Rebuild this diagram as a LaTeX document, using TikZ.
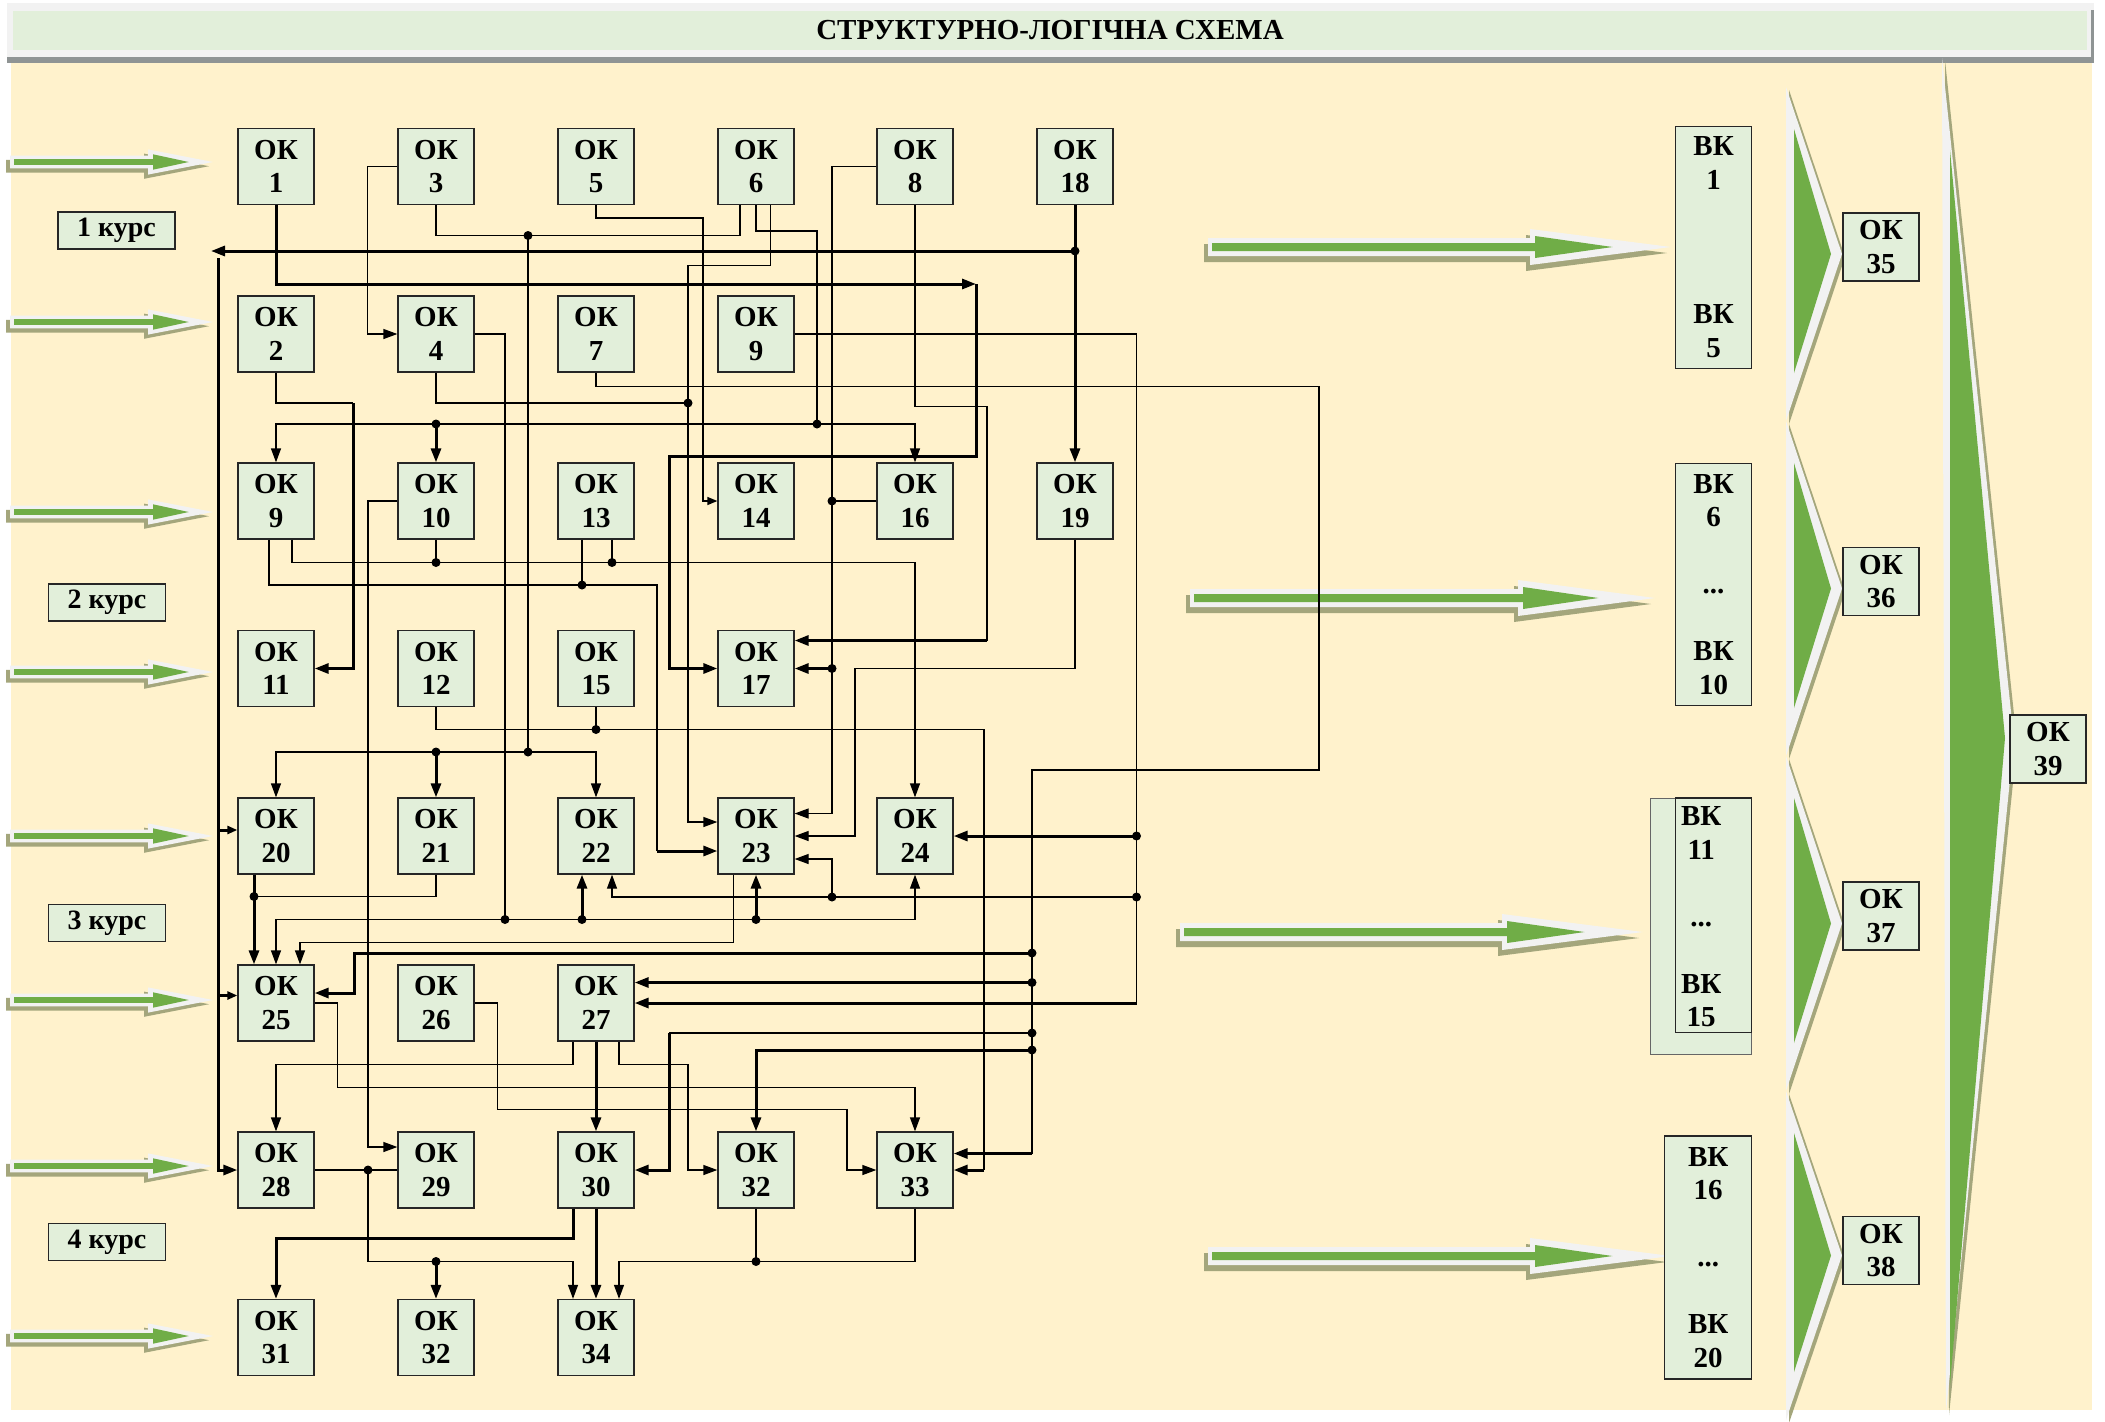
\documentclass[tikz,border=0pt]{standalone}
\usepackage{fontspec}
\setmainfont{Liberation Serif}
\usetikzlibrary{arrows.meta}
\definecolor{cream}{HTML}{FFF2CC}
\definecolor{boxgreen}{HTML}{E2EFDA}
\definecolor{leafgreen}{HTML}{70AD47}
\definecolor{rim}{HTML}{F2F2F2}
\definecolor{olive}{HTML}{A4A67C}
\definecolor{barshade}{HTML}{8F9494}
\newcommand{\boxfont}{\fontsize{29}{33.5}\selectfont\bfseries}
\newcommand{\greenarrow}[5]{%
	\pgfmathsetmacro{\arrH}{#3-#1}%
	\pgfmathsetmacro{\arrL}{#4-#1}%
	\pgfmathsetmacro{\arrG}{\arrH+5+0.55*(\arrL-\arrH)}%
	\begin{scope}[shift={(#1,#2)},yscale=#5]
		\fill[olive] (-4,-3) -- (\arrH-4,-3) -- (\arrH-4,-12) -- (\arrL-4,6) -- (\arrH-4,24) -- (\arrH-4,15) -- (-4,15) -- cycle;
		\fill[rim] (0,-9) -- (\arrH,-9) -- (\arrH,-18) -- (\arrL,0) -- (\arrH,18) -- (\arrH,9) -- (0,9) -- cycle;
		\fill[leafgreen] (4,-4) -- (\arrH+5,-4) -- (\arrH+5,-11) -- (\arrG,0) -- (\arrH+5,11) -- (\arrH+5,4) -- (4,4) -- cycle;
	\end{scope}}
\newcommand{\chevron}[2]{%
	\pgfmathsetmacro{\chevM}{(#1+#2)/2}%
	\fill[olive] (1789,#1+3) -- (1845,\chevM+3) -- (1789,#2+3) -- cycle;
	\fill[rim] (1786,#1) -- (1842,\chevM) -- (1786,#2) -- cycle;
	\fill[leafgreen] (1794,#1+42) -- (1831,\chevM) -- (1794,#2-48) -- cycle;}

\begin{document}
\begin{tikzpicture}[x=1pt,y=-1pt,
	ok/.style={draw=black!85,line width=1.3pt,fill=boxgreen,minimum width=76pt,minimum height=76pt,inner sep=0pt,align=center,font=\boxfont},
	okr/.style={ok,minimum height=68pt},
	vk/.style={ok,minimum height=242pt},
	kurs/.style={draw=black!85,line width=1.3pt,fill=boxgreen,minimum width=117pt,minimum height=37pt,inner sep=0pt,font=\fontsize{28}{30}\selectfont\bfseries},
	wire/.style={line width=1.3pt},
	bus/.style={line width=3pt},
	intip/.style={-{Triangle[length=14pt,width=10pt]}},
	smalltip/.style={-{Triangle[length=10pt,width=8pt]}}]
	
	\useasboundingbox (0,0) rectangle (2105,1422);
	\fill[white] (0,0) rectangle (2105,1422);
	\fill[cream] (11,63) rectangle (2092,1410);
	
	\fill[rim] (7,3) rectangle (2094,57);
	\fill[barshade] (7,57) rectangle (2094,63);
	\fill[barshade] (2091,10) rectangle (2094,63);
	\node[fill=boxgreen,minimum width=2074pt,minimum height=39pt,inner sep=0pt,font=\fontsize{29}{33}\selectfont\bfseries] (title) at (1050,30.5) {СТРУКТУРНО-ЛОГІЧНА СХЕМА};
	
	\fill[olive] (1945,60) -- (2017,743) -- (1949,1415) -- cycle;
	\fill[rim] (1942,58) -- (2014,740) -- (1946,1412) -- cycle;
	\fill[leafgreen] (1950,150) -- (2005,738) -- (1950,1385) -- cycle;
	\chevron{87}{421}
	\chevron{421}{756}
	\chevron{756}{1091}
	\chevron{1091}{1420}
	
	\greenarrow{10}{162}{148}{213}{0.7}
	\greenarrow{10}{322}{148}{213}{0.7}
	\greenarrow{10}{512}{148}{213}{0.7}
	\greenarrow{10}{672}{148}{213}{0.7}
	\greenarrow{10}{836}{148}{213}{0.7}
	\greenarrow{10}{1000}{148}{213}{0.7}
	\greenarrow{10}{1166}{148}{213}{0.7}
	\greenarrow{10}{1336}{148}{213}{0.7}
	\greenarrow{1208}{247}{1530}{1671}{1}
	\greenarrow{1190}{598}{1518}{1655}{1}
	\greenarrow{1180}{932}{1502}{1643}{1}
	\greenarrow{1208}{1256}{1530}{1671}{1}
	
	\node[kurs] (kurs1) at (116.5,230.5) {1 курс};
	\node[kurs] (kurs2) at (107,602.5) {2 курс};
	\node[kurs] (kurs3) at (107,923) {3 курс};
	\node[kurs] (kurs4) at (107,1242) {4 курс};
	
	\node[ok] (ok1) at (276,166.5) {ОК\\1};
	\node[ok] (ok3) at (436,166.5) {ОК\\3};
	\node[ok] (ok5) at (596,166.5) {ОК\\5};
	\node[ok] (ok6) at (756,166.5) {ОК\\6};
	\node[ok] (ok8) at (915,166.5) {ОК\\8};
	\node[ok] (ok18) at (1075,166.5) {ОК\\18};
	\node[ok] (ok2) at (276,334) {ОК\\2};
	\node[ok] (ok4) at (436,334) {ОК\\4};
	\node[ok] (ok7) at (596,334) {ОК\\7};
	\node[ok] (ok9a) at (756,334) {ОК\\9};
	\node[ok] (ok9b) at (276,501) {ОК\\9};
	\node[ok] (ok10) at (436,501) {ОК\\10};
	\node[ok] (ok13) at (596,501) {ОК\\13};
	\node[ok] (ok14) at (756,501) {ОК\\14};
	\node[ok] (ok16) at (915,501) {ОК\\16};
	\node[ok] (ok19) at (1075,501) {ОК\\19};
	\node[ok] (ok11) at (276,668.5) {ОК\\11};
	\node[ok] (ok12) at (436,668.5) {ОК\\12};
	\node[ok] (ok15) at (596,668.5) {ОК\\15};
	\node[ok] (ok17) at (756,668.5) {ОК\\17};
	\node[ok] (ok20) at (276,836) {ОК\\20};
	\node[ok] (ok21) at (436,836) {ОК\\21};
	\node[ok] (ok22) at (596,836) {ОК\\22};
	\node[ok] (ok23) at (756,836) {ОК\\23};
	\node[ok] (ok24) at (915,836) {ОК\\24};
	\node[ok] (ok25) at (276,1003) {ОК\\25};
	\node[ok] (ok26) at (436,1003) {ОК\\26};
	\node[ok] (ok27) at (596,1003) {ОК\\27};
	\node[ok] (ok28) at (276,1170) {ОК\\28};
	\node[ok] (ok29) at (436,1170) {ОК\\29};
	\node[ok] (ok30) at (596,1170) {ОК\\30};
	\node[ok] (ok32a) at (756,1170) {ОК\\32};
	\node[ok] (ok33) at (915,1170) {ОК\\33};
	\node[ok] (ok31) at (276,1337.5) {ОК\\31};
	\node[ok] (ok32b) at (436,1337.5) {ОК\\32};
	\node[ok] (ok34) at (596,1337.5) {ОК\\34};
	
	\node[vk] (vk1) at (1713.6,247.2) {ВК\\1\\[101pt]ВК\\5};
	\node[vk] (vk6) at (1713.6,584.4) {ВК\\6\\[33.5pt]...\\[33.5pt]ВК\\10};
	\node[vk,minimum width=101pt,minimum height=256.5pt,draw=black!60,line width=0.8pt] (vk11o) at (1701.2,926.3) {};
	\node[vk,minimum height=234.4pt,fill=none] (vk11) at (1713.6,915.2) {};
	\node[font=\boxfont,align=center] (vk11t) at (1701.2,917) {ВК\\11\\[33.5pt]...\\[33.5pt]ВК\\15};
	\node[vk,minimum width=87pt,minimum height=243pt] (vk16) at (1708.2,1257.5) {ВК\\16\\[33.5pt]...\\[33.5pt]ВК\\20};
	\node[okr] (ok35) at (1881,247) {ОК\\35};
	\node[okr] (ok36) at (1881,581.3) {ОК\\36};
	\node[okr] (ok37) at (1881,916) {ОК\\37};
	\node[okr] (ok38) at (1881,1250.7) {ОК\\38};
	\node[okr] (ok39) at (2048,749) {ОК\\39};
	
	\coordinate (j3) at (528,235.5);
	\coordinate (j20) at (528,752);
	\coordinate (j21) at (436,752);
	\coordinate (j18) at (1075,251);
	\coordinate (j6) at (817,424);
	\coordinate (j10a) at (436,424);
	\coordinate (j4) at (688,403);
	\coordinate (j4b) at (505,919.5);
	\coordinate (j22a) at (582,919.5);
	\coordinate (j23a) at (756,919.5);
	\coordinate (j25) at (1032,953);
	\coordinate (j27) at (1032,982.5);
	\coordinate (j30) at (1032,1033);
	\coordinate (j32) at (1032,1050);
	\coordinate (j24) at (1136.5,836);
	\coordinate (j22b) at (1136.5,897);
	\coordinate (j23b) at (832,897);
	\coordinate (j16) at (832,501);
	\coordinate (j17) at (832,668.5);
	\coordinate (j10b) at (436,562.5);
	\coordinate (j13a) at (612,562.5);
	\coordinate (j13b) at (582,585);
	\coordinate (j15) at (596,729.5);
	\coordinate (j21b) at (254,896.5);
	\coordinate (j28) at (368,1170);
	\coordinate (j32b) at (436,1261.5);
	\coordinate (j33) at (756,1261.5);
	\coordinate (sp1) at (218,258);
	\coordinate (sp20) at (218,830);
	\coordinate (sp25) at (218,995.5);
	
	\draw[bus,intip] (ok1.south) |- (976,284);
	\draw[bus,intip] (976,284) -- (976,456.5) -| (669,668.5) -- (ok17.west);
	\draw[bus,intip] (ok18.south) -- (ok19.north);
	\draw[bus,intip] (j18) -- (211,251);
	\draw[bus,intip] (sp1) |- (ok28.west);
	\draw[bus,smalltip] (sp20) -- (sp20 -| ok20.west);
	\draw[bus,smalltip] (sp25) -- (sp25 -| ok25.west);
	
	\draw[wire,intip] (ok3.west) -- ++(-30,0) |- (ok4.west);
	\draw[wire] (ok3.south) |- (j3) -| ([xshift=-16pt]ok6.south);
	\draw[wire] (j3) -- (j20);
	\draw[wire,intip] (j20) -| (ok20.north);
	\draw[wire,intip] (j20) -| (ok22.north);
	\draw[bus,intip] (j21) -- (ok21.north);
	\draw[wire,smalltip] (ok5.south) |- (703,218) |- (ok14.west);
	
	\draw[wire] (ok6.south) |- (817,231) -- (j6);
	\draw[wire,intip] (j6) -| (ok9b.north);
	\draw[wire,intip] (j6) -| (ok16.north);
	\draw[bus,intip] (j10a) -- (ok10.north);
	\draw[wire,intip] ([xshift=14.5pt]ok6.south) |- (688,265.5) |- ([yshift=14pt]ok23.west);
	\draw[wire] (ok4.south) |- (j4);
	\draw[wire] (ok2.south) |- (353,403);
	\draw[bus,intip] (353,403) |- (ok11.east);
	
	\draw[wire] (ok4.east) -| (j4b);
	\draw[wire,intip] (j4b) -| (ok25.north);
	\draw[wire,intip] (j4b) -| (ok24.south);
	\draw[bus,intip] (j22a) -- (j22a |- ok22.south);
	\draw[bus,intip] (j23a) -- (ok23.south);
	
	\draw[wire] (ok7.south) |- (1319,386.5) |- (1032,770) -- (1032,1153.5);
	\draw[bus,intip] (1032,1153.5) -- ([yshift=16.5pt]ok33.east);
	\draw[bus,intip] (j25) -| (354,993) -- ([yshift=10pt]ok25.east);
	\draw[bus,intip] (j27) -- (j27 -| ok27.east);
	\draw[wire] (j30) -- (669,1033);
	\draw[bus,intip] (669,1033) |- (ok30.east);
	\draw[bus,intip] (j32) -| (ok32a.north);
	
	\draw[wire] (ok9a.east) -| (1136.5,1003);
	\draw[bus,intip] (1136.5,1003) -- (ok27.east);
	\draw[bus,intip] (j24) -- (ok24.east);
	\draw[wire] (j22b) -- (j23b);
	\draw[wire,intip] (j23b) -| ([xshift=16pt]ok22.south);
	\draw[wire,intip] (j23b) |- ([yshift=-23pt]ok23.east);
	
	\draw[wire,intip] (ok8.west) -| (832,813.5) -- ([yshift=22.5pt]ok23.east);
	\draw[wire] (ok16.west) -- (j16);
	\draw[bus,intip] (j17) -- (ok17.east);
	\draw[wire] (ok8.south) |- (987,406.5) -- (987,640.5);
	\draw[bus,intip] (987,640.5) -- ([yshift=28pt]ok17.east);
	\draw[wire,intip] (ok19.south) |- (855,668.5) |- (ok23.east);
	
	\draw[wire,intip] ([xshift=16pt]ok9b.south) |- (915,562.5) -- (ok24.north);
	\draw[wire] (ok10.south) -- (j10b);
	\draw[wire] ([xshift=16pt]ok13.south) -- (j13a);
	\draw[wire] ([xshift=-7pt]ok9b.south) |- (657,585) -- (657,851);
	\draw[bus,intip] (657,851) -- ([yshift=-15pt]ok23.west);
	\draw[wire] ([xshift=-14pt]ok13.south) -- (j13b);
	\draw[wire,intip] (ok10.west) -| (368,1147) -- ([yshift=23pt]ok29.west);
	\draw[wire] (ok12.south) |- (984,729.5) -- (984,1170);
	\draw[bus,intip] (984,1170) -- (ok33.east);
	\draw[wire] (ok15.south) -- (j15);
	
	\draw[bus,intip] ([xshift=-22pt]ok20.south) -- ([xshift=-22pt]ok25.north);
	\draw[wire] (ok21.south) |- (j21b);
	\draw[wire,intip] ([xshift=-22.5pt]ok23.south) -- ++(0,68) -| ([xshift=24pt]ok25.north);
	
	\draw[wire,intip] (ok25.east) -- ++(23,0) -- ++(0,84.5) -| (ok33.north);
	\draw[wire,intip] (ok26.east) -- ++(23,0) -- ++(0,106.5) -| (847,1170) -- (ok33.west);
	\draw[wire,intip] ([xshift=-23pt]ok27.south) -- ++(0,23) -| (ok28.north);
	\draw[bus,intip] (ok27.south) -- (ok30.north);
	\draw[wire,intip] ([xshift=23pt]ok27.south) -- ++(0,23) -| (688,1170) -- (ok32a.west);
	
	\draw[wire] (ok28.east) -- (ok29.west);
	\draw[wire,intip] (j28) -- (368,1261.5) -| ([xshift=-23pt]ok34.north);
	\draw[bus,intip] (j32b) -- (ok32b.north);
	\draw[bus,intip] ([xshift=-23pt]ok30.south) -- ++(0,30) -| (ok31.north);
	\draw[bus,intip] (ok30.south) -- (ok34.north);
	\draw[wire,intip] (ok33.south) -- ++(0,53) -| ([xshift=23pt]ok34.north);
	\draw[wire] (ok32a.south) -- (j33);
	
	\fill (j3) circle (4.5pt) (j20) circle (4.5pt) (j21) circle (4.5pt) (j18) circle (4.5pt)
		(j6) circle (4.5pt) (j10a) circle (4.5pt) (j4) circle (4.5pt) (j4b) circle (4.5pt)
		(j22a) circle (4.5pt) (j23a) circle (4.5pt) (j25) circle (4.5pt) (j27) circle (4.5pt)
		(j30) circle (4.5pt) (j32) circle (4.5pt) (j24) circle (4.5pt) (j22b) circle (4.5pt)
		(j23b) circle (4.5pt) (j16) circle (4.5pt) (j17) circle (4.5pt) (j10b) circle (4.5pt)
		(j13a) circle (4.5pt) (j13b) circle (4.5pt) (j15) circle (4.5pt) (j21b) circle (4.5pt)
		(j28) circle (4.5pt) (j32b) circle (4.5pt) (j33) circle (4.5pt);
	
\end{tikzpicture}
\end{document}
